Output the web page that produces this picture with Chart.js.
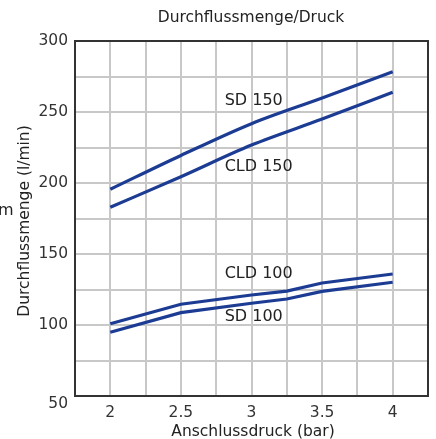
<!DOCTYPE html>
<html>
<head>
<meta charset="utf-8">
<script src="https://cdn.jsdelivr.net/npm/chart.js@4"></script>
<style>
  html, body { margin: 0; padding: 0; background: #fff; }
  #wrap { width: 436px; height: 439px; position: relative; }
</style>
</head>
<body>
<div id="wrap"><canvas id="chart"></canvas></div>
<script>
// --- data ---
const pressure150 = [2, 2.5, 3, 3.5, 4];
const sd150 = [195.6, 219.4, 241.8, 259.9, 278.4];
const cld150 = [182.9, 204.4, 226.7, 245.0, 263.9];

const pressure100 = [2, 2.5, 3, 3.25, 3.5, 4];
const cld100 = [100.9, 114.6, 121.1, 123.9, 129.6, 135.9];
const sd100 = [94.9, 108.7, 115.3, 118.3, 123.7, 130.1];

const seriesNames = ['SD 150', 'CLD 150', 'CLD 100', 'SD 100'];
const nameX = [2.81, 2.81, 2.81, 2.81];
const nameY = [257.7, 211.3, 135.9, 105.6];

const LINE_COLOR = '#1c3c94';
const FONT = "'DejaVu Sans', sans-serif";

const toPoints = (xs, ys) => xs.map((x, i) => ({ x: x, y: ys[i] }));

// frame, titles and series names drawn on top
const decorations = {
  id: 'decorations',
  afterDraw(chart) {
    const { ctx, chartArea: a, scales } = chart;
    ctx.save();
    ctx.strokeStyle = '#333';
    ctx.lineWidth = 2;
    ctx.strokeRect(a.left, a.top, a.right - a.left, a.bottom - a.top);

    ctx.fillStyle = '#222';
    ctx.textAlign = 'center';
    ctx.textBaseline = 'middle';
    ctx.font = '15.5px ' + FONT;
    ctx.fillText('Durchflussmenge/Druck', 251, 18);

    ctx.font = '15.5px ' + FONT;
    ctx.fillText('Anschlussdruck (bar)', 253, 432);

    ctx.save();
    ctx.translate(25, 221);
    ctx.rotate(-Math.PI / 2);
    ctx.fillText('Durchflussmenge (l/min)', 0, 0);
    ctx.restore();

    // lowest y label sits a little below its gridline in the reference
    ctx.fillStyle = '#333';
    ctx.textAlign = 'right';
    ctx.fillText('50', a.left - 7, scales.y.getPixelForValue(50) + 8);

    ctx.fillStyle = '#222';
    ctx.font = '16px ' + FONT;
    ctx.textAlign = 'left';
    seriesNames.forEach((n, i) => {
      ctx.fillText(n, scales.x.getPixelForValue(nameX[i]), scales.y.getPixelForValue(nameY[i]));
    });

    // stray clipped glyph at the far left of the reference
    ctx.font = '16px ' + FONT;
    ctx.fillText('m', -2, 211);
    ctx.restore();
  }
};

new Chart(document.getElementById('chart'), {
  type: 'line',
  data: {
    datasets: [
      { data: toPoints(pressure150, sd150), cubicInterpolationMode: 'monotone' },
      { data: toPoints(pressure150, cld150), cubicInterpolationMode: 'monotone' },
      { data: toPoints(pressure100, cld100), tension: 0 },
      { data: toPoints(pressure100, sd100), tension: 0 }
    ].map(d => Object.assign(d, {
      borderColor: LINE_COLOR,
      borderWidth: 3.2,
      pointRadius: 0,
      fill: false
    }))
  },
  options: {
    responsive: true,
    maintainAspectRatio: false,
    animation: false,
    layout: { padding: { top: 41, right: 6, left: 0, bottom: 0 } },
    plugins: { legend: { display: false }, tooltip: { enabled: false } },
    scales: {
      x: {
        type: 'linear',
        min: 1.75,
        max: 4.25,
        afterFit: s => { s.height = 43; },
        afterBuildTicks: s => {
          s.ticks = [];
          for (let v = 1.75; v <= 4.2501; v += 0.25) s.ticks.push({ value: v });
        },
        grid: { color: '#c8c8c8', lineWidth: 2, drawTicks: false },
        border: { display: false },
        ticks: {
          color: '#333',
          font: { family: FONT, size: 15.5 },
          padding: 8,
          autoSkip: false,
          maxRotation: 0,
          callback: v => (Math.abs(v * 2 - Math.round(v * 2)) < 1e-6 && v > 1.8 && v < 4.2) ? String(v) : ''
        }
      },
      y: {
        min: 50,
        max: 300,
        afterFit: s => { s.width = 75; },
        grid: { color: '#c8c8c8', lineWidth: 2, drawTicks: false },
        border: { display: false },
        ticks: {
          stepSize: 25,
          color: '#333',
          font: { family: FONT, size: 15.5 },
          padding: 7,
          callback: v => (v % 50 === 0 && v > 50) ? String(v) : ''
        }
      }
    }
  },
  plugins: [decorations]
});
</script>
</body>
</html>
